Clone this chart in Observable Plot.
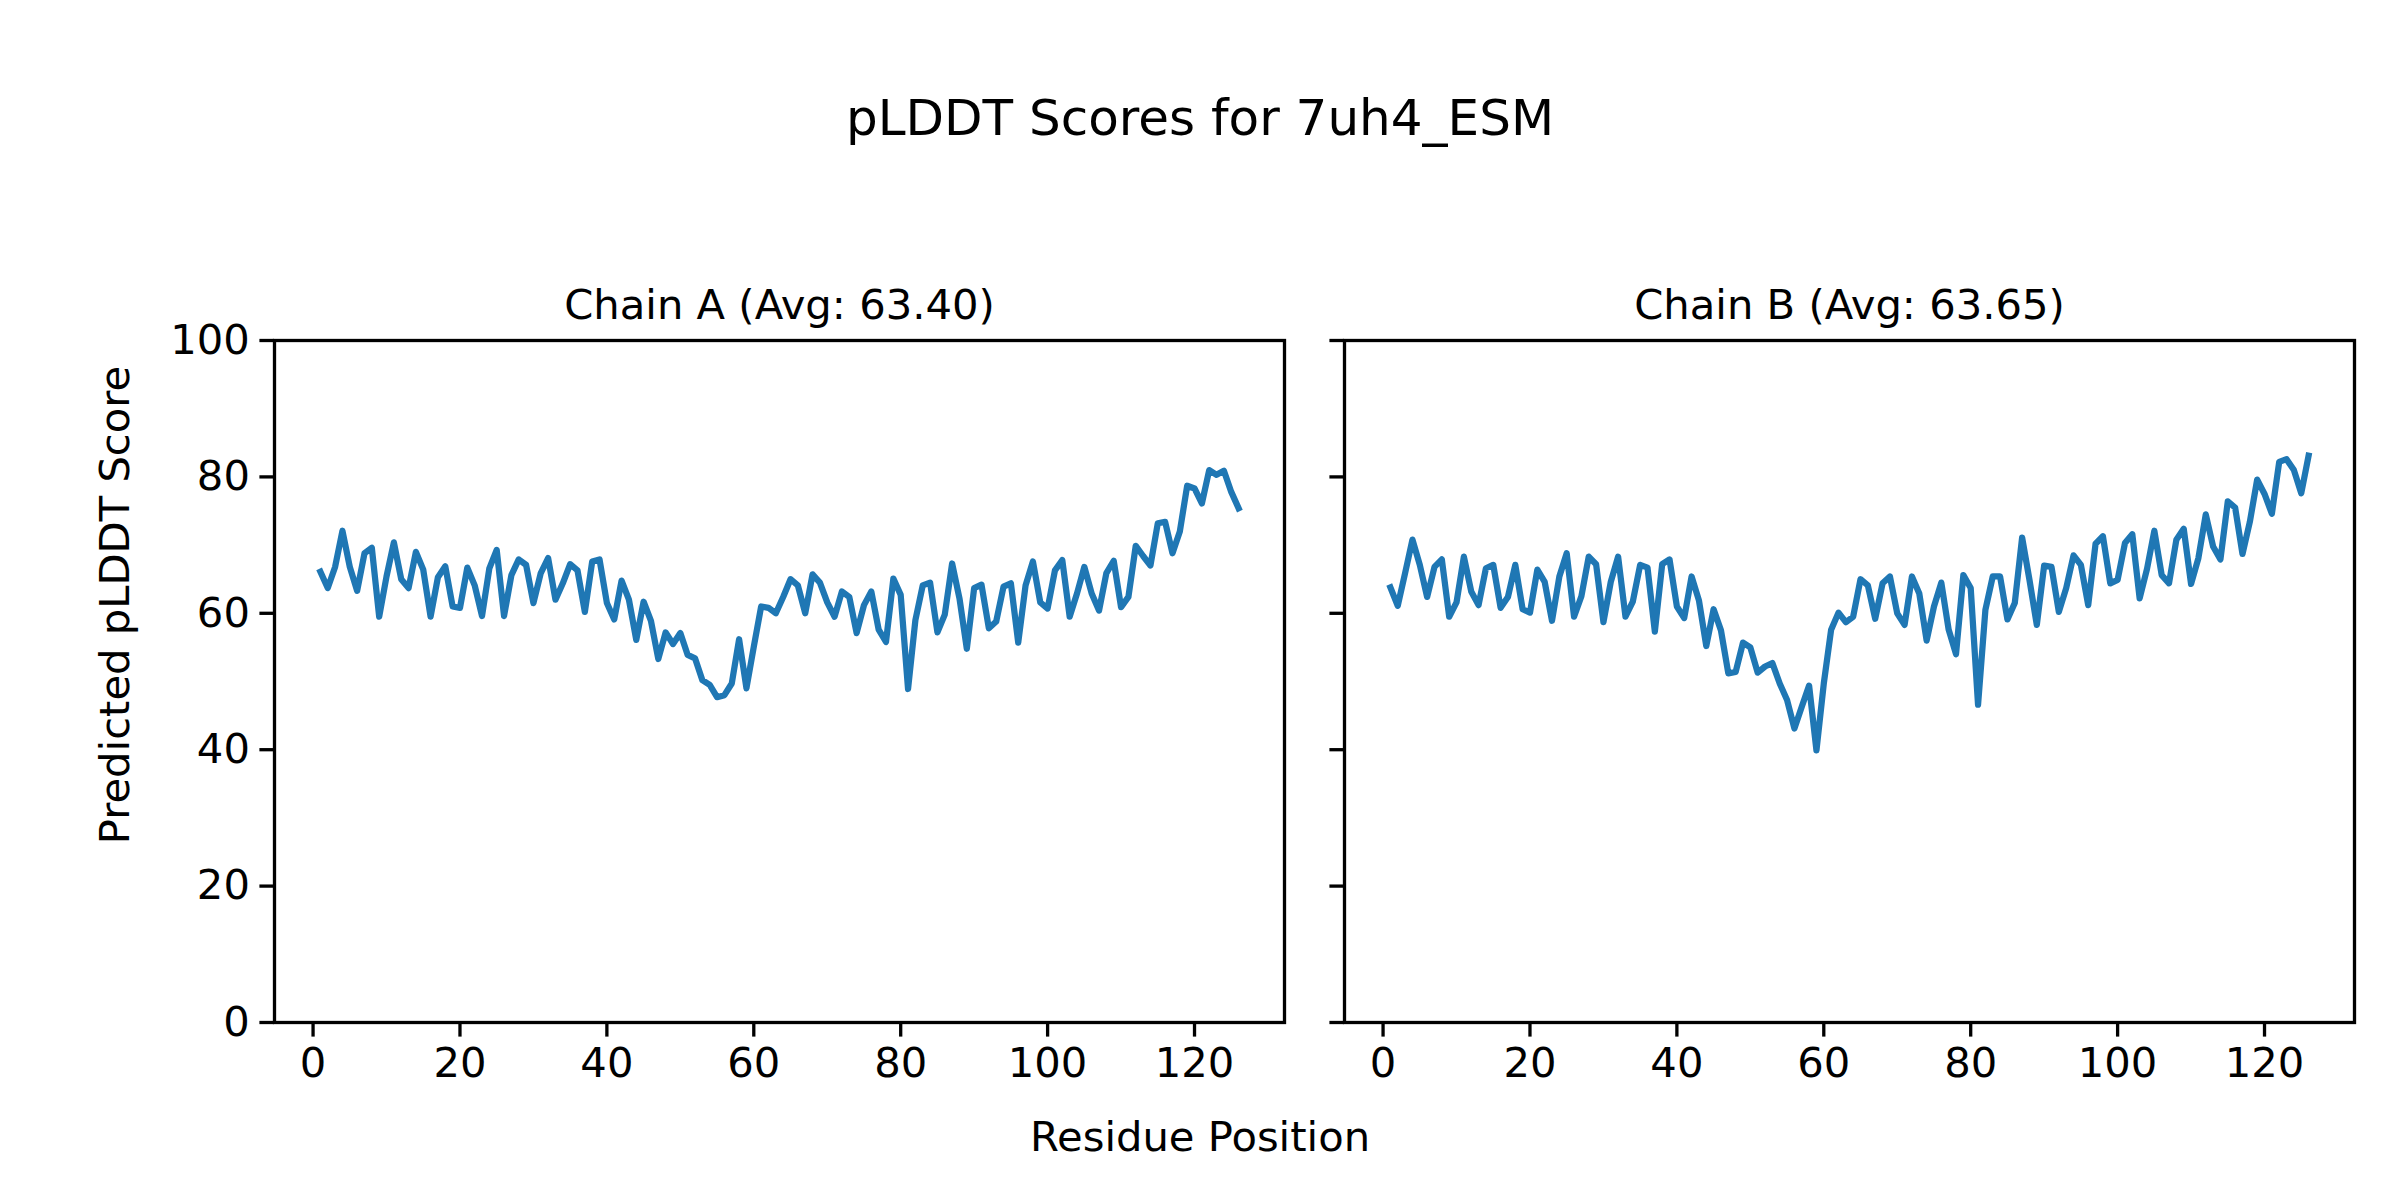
<!DOCTYPE html>
<html>
<head>
<meta charset="utf-8">
<script src="https://cdn.jsdelivr.net/npm/d3@7"></script>
<script src="https://cdn.jsdelivr.net/npm/@observablehq/plot@0.6"></script>
<style>
  html, body { margin: 0; padding: 0; background: white; }
  body { position: relative; width: 2400px; height: 1200px; font-family: "DejaVu Sans", sans-serif; color: black; }
  #suptitle { height: 200px; box-sizing: border-box; padding-top: 88px; line-height: 60px; font-size: 50px; text-align: center; }
  #xlabel { height: 100px; box-sizing: border-box; padding-top: 12px; line-height: 50px; font-size: 41.7px; text-align: center; width: 2400px; }
  #ylabel { position: absolute; left: 115px; top: 605px; font-size: 41.7px; line-height: 50px; white-space: nowrap;
            transform: translate(-50%, -50%) rotate(-90deg); }
  #chart svg { display: block; }
</style>
</head>
<body>
<div id="suptitle">pLDDT Scores for 7uh4_ESM</div>
<div id="chart"></div>
<div id="xlabel">Residue Position</div>
<div id="ylabel">Predicted pLDDT Score</div>
<script>
const figureTitle = "pLDDT Scores for 7uh4_ESM";
const panelTitles = ["Chain A (Avg: 63.40)", "Chain B (Avg: 63.65)"];
const xLabel = "Residue Position";
const yLabel = "Predicted pLDDT Score";
const xTicks = [0, 20, 40, 60, 80, 100, 120];
const yTicks = [0, 20, 40, 60, 80, 100];

const chainA = [
  66.1, 63.7, 66.8, 72.1, 66.8, 63.3, 68.8, 69.6, 59.5, 65.4,
  70.4, 65.0, 63.7, 69.0, 66.4, 59.5, 65.3, 66.9, 61.0, 60.8,
  66.7, 64.1, 59.6, 66.6, 69.3, 59.6, 65.6, 67.9, 67.1, 61.5,
  65.9, 68.1, 62.0, 64.4, 67.2, 66.3, 60.2, 67.6, 67.9, 61.5,
  59.1, 64.8, 62.0, 56.1, 61.7, 58.9, 53.3, 57.2, 55.5, 57.1,
  53.9, 53.4, 50.2, 49.5, 47.7, 48.0, 49.7, 56.2, 49.0, 55.1,
  61.0, 60.8, 60.0, 62.4, 65.0, 64.1, 60.0, 65.7, 64.5, 61.6,
  59.5, 63.2, 62.4, 57.1, 61.2, 63.2, 57.6, 55.8, 65.1, 62.7,
  48.9, 59.0, 64.1, 64.5, 57.2, 59.8, 67.3, 62.2, 54.8, 63.7,
  64.2, 57.8, 58.8, 63.9, 64.4, 55.7, 64.1, 67.6, 61.6, 60.7,
  66.3, 67.8, 59.5, 62.9, 66.8, 62.9, 60.4, 65.9, 67.7, 60.9,
  62.4, 69.9, 68.4, 67.0, 73.2, 73.4, 68.8, 72.0, 78.7, 78.3,
  76.1, 81.0, 80.3, 80.9, 77.8, 75.4
];

const chainB = [
  63.8, 61.1, 65.9, 70.8, 67.1, 62.4, 66.8, 67.9, 59.5, 61.6,
  68.3, 63.2, 61.2, 66.6, 67.1, 60.8, 62.4, 67.1, 60.6, 60.1,
  66.4, 64.6, 58.9, 65.4, 68.8, 59.5, 62.5, 68.3, 67.2, 58.7,
  64.6, 68.3, 59.5, 61.7, 67.1, 66.7, 57.3, 67.2, 67.9, 61.0,
  59.3, 65.4, 61.9, 55.2, 60.6, 57.5, 51.2, 51.4, 55.7, 55.0,
  51.3, 52.2, 52.7, 49.7, 47.3, 43.1, 46.3, 49.4, 39.9, 49.7,
  57.6, 60.1, 58.7, 59.5, 65.0, 64.1, 59.2, 64.4, 65.4, 60.0,
  58.3, 65.4, 62.9, 56.0, 61.0, 64.5, 57.6, 54.0, 65.6, 63.7,
  46.6, 60.5, 65.4, 65.4, 59.1, 61.5, 71.1, 64.9, 58.3, 67.0,
  66.8, 60.2, 63.7, 68.5, 67.1, 61.2, 70.2, 71.3, 64.4, 64.9,
  70.3, 71.6, 62.2, 66.5, 72.1, 65.6, 64.4, 70.8, 72.4, 64.3,
  68.1, 74.5, 69.8, 67.9, 76.4, 75.5, 68.7, 73.4, 79.6, 77.5,
  74.6, 82.2, 82.6, 81.0, 77.6, 83.1
];

document.getElementById("suptitle").textContent = figureTitle;
document.getElementById("xlabel").textContent = xLabel;
document.getElementById("ylabel").textContent = yLabel;

const rows = [];
[chainA, chainB].forEach((series, k) => {
  series.forEach((v, i) => rows.push({chain: panelTitles[k], residue: i + 1, score: v}));
});

const fontSize = 41.7;
const chart = Plot.plot({
  width: 2400,
  height: 900,
  marginLeft: 274,
  marginRight: 46,
  marginTop: 140,
  marginBottom: 78,
  style: {fontFamily: "DejaVu Sans", color: "black", background: "white", overflow: "visible"},
  fx: {domain: panelTitles, paddingInner: 60 / 1070, paddingOuter: 0, round: false},
  x: {domain: [-5.25, 132.25]},
  y: {domain: [0, 100]},
  marks: [
    Plot.line(rows, {fx: "chain", x: "residue", y: "score", stroke: "#1f77b4", strokeWidth: 6.25, strokeLinejoin: "round", strokeLinecap: "square"}),
    Plot.frame({stroke: "black", strokeWidth: 3.3}),
    Plot.axisX({ticks: xTicks, tickSize: 14.6, tickPadding: 10, fontSize, strokeWidth: 3.3, label: null}),
    Plot.axisY({ticks: yTicks, tickSize: 14.6, tickPadding: 10, fontSize, strokeWidth: 3.3, label: null}),
    Plot.axisY({ticks: yTicks, tickSize: 14.6, strokeWidth: 3.3, tickFormat: () => "", label: null, facetAnchor: "right"}),
    Plot.axisFx({anchor: "top", tickSize: 0, tickPadding: 22, fontSize, label: null})
  ]
});
document.getElementById("chart").appendChild(chart);
</script>
</body>
</html>
